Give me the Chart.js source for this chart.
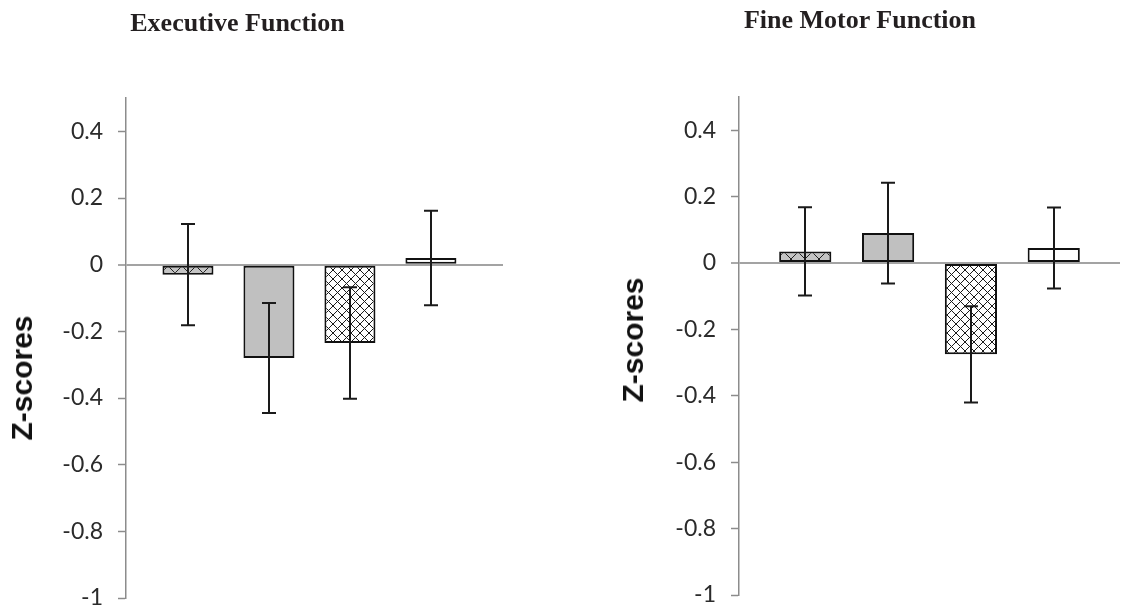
<!DOCTYPE html>
<html>
<head>
<meta charset="utf-8">
<script src="https://cdn.jsdelivr.net/npm/chart.js@4.4.0/dist/chart.umd.min.js"></script>
<style>
  body { margin: 0; background: #fff; width: 1121px; height: 610px; position: relative; overflow: hidden; }
  canvas { position: absolute; top: 0; }
  .title { position: absolute; font-family: "Liberation Serif", serif; font-weight: bold; font-size: 26px; line-height: 26px; color: #231f20; text-align: center; white-space: nowrap; }
  .ytitle { position: absolute; font-family: "Liberation Sans", Arial, sans-serif; font-weight: bold; font-size: 30px; line-height: 30px; color: #111; transform: translate(-50%, -50%) rotate(-90deg); white-space: nowrap; }
</style>
</head>
<body>
<canvas id="efChart" width="560" height="610" style="left:0"></canvas>
<canvas id="fmChart" width="561" height="610" style="left:560px"></canvas>
<div class="title" style="left:0; width:475px; top:10px">Executive Function</div>
<div class="title" style="left:620px; width:480px; top:7px">Fine Motor Function</div>
<div class="ytitle" style="left:22px; top:378px">Z-scores</div>
<div class="ytitle" style="left:633px; top:340px">Z-scores</div>
<script>
// data (z-score means and error bar half-lengths)
const categories = ['Group 1', 'Group 2', 'Group 3', 'Group 4'];
const execMeans = [-0.03, -0.28, -0.235, 0.02];
const execErrors = [0.152, 0.165, 0.167, 0.142];
const motorMeans = [0.035, 0.09, -0.275, 0.045];
const motorErrors = [0.133, 0.152, 0.145, 0.122];
const yTicks = [0.4, 0.2, 0, -0.2, -0.4, -0.6, -0.8, -1];

// hatch fills like the Excel pattern fills
function makeLattice(size, bg, stroke) {
    const c = document.createElement('canvas');
    c.width = size; c.height = size;
    const g = c.getContext('2d');
    g.fillStyle = bg;
    g.fillRect(0, 0, size, size);
    g.strokeStyle = stroke;
    g.lineWidth = 1;
    g.beginPath();
    g.moveTo(0, 0); g.lineTo(size, size);
    g.moveTo(size, 0); g.lineTo(0, size);
    g.stroke();
    return g.createPattern(c, 'repeat');
}

const barFills = [
    makeLattice(14, '#c4c4c4', '#222'),
    '#c0c0c0',
    makeLattice(9, '#ffffff', '#1a1a1a'),
    '#ffffff'
];

const errorBarPlugin = {
    id: 'errorBars',
    afterDatasetsDraw(chart, args, opts) {
        const ctx = chart.ctx;
        const yScale = chart.scales.y;
        const ds = chart.data.datasets[0];
        const meta = chart.getDatasetMeta(0);
        ctx.save();
        ctx.strokeStyle = '#1a1a1a';
        ctx.lineWidth = 2;
        meta.data.forEach((bar, i) => {
            const m = ds.data[i].y;
            const top = yScale.getPixelForValue(m + opts.errors[i]);
            const bot = yScale.getPixelForValue(m - opts.errors[i]);
            const x = Math.round(bar.x);
            ctx.beginPath();
            ctx.moveTo(x, top); ctx.lineTo(x, bot);
            ctx.moveTo(x - 7, top); ctx.lineTo(x + 7, top);
            ctx.moveTo(x - 7, bot); ctx.lineTo(x + 7, bot);
            ctx.stroke();
        });
        ctx.restore();
    }
};

function makeChart(id, means, errors, xMin, xMax, axisWidth, pad) {
    const el = document.getElementById(id);
    return new Chart(el.getContext('2d'), {
        type: 'bar',
        data: {
            datasets: [{
                label: 'Z-scores',
                data: means.map((v, i) => ({ x: i + 1, y: v, group: categories[i] })),
                backgroundColor: barFills,
                borderColor: '#111',
                borderWidth: 2,
                borderSkipped: false,
                categoryPercentage: 1,
                barPercentage: 0.63
            }]
        },
        options: {
            responsive: false,
            animation: false,
            layout: { padding: pad },
            plugins: {
                legend: { display: false },
                tooltip: { enabled: false },
                errorBars: { errors: errors }
            },
            scales: {
                x: {
                    type: 'linear',
                    min: xMin,
                    max: xMax,
                    offset: false,
                    display: false,
                    // one tick per group so the bar ruler uses the group spacing
                    afterBuildTicks: (scale) => { scale.ticks = categories.map((c, i) => ({ value: i + 1 })); }
                },
                y: {
                    min: -1,
                    max: 0.5,
                    afterBuildTicks: (scale) => { scale.ticks = yTicks.map(v => ({ value: v })); },
                    afterFit: (scale) => {
                        scale.width = axisWidth;
                        scale.paddingTop = 0;
                        scale.paddingBottom = 0;
                    },
                    border: { display: true, color: '#8c8c8c', width: 1.5 },
                    grid: {
                        color: (c) => (c.tick && c.tick.value === 0) ? '#a3a3a3' : 'rgba(0,0,0,0)',
                        lineWidth: (c) => (c.tick && c.tick.value === 0) ? 2 : 1,
                        tickColor: '#8c8c8c',
                        tickWidth: 1.5,
                        tickLength: 8
                    },
                    ticks: {
                        padding: 15,
                        color: '#2b2b2b',
                        font: { family: 'Lato', size: 23 },
                        callback: (v) => String(Math.round(v * 10) / 10)
                    }
                }
            }
        },
        plugins: [errorBarPlugin]
    });
}

makeChart('efChart', execMeans, execErrors, 0.235, 4.89, 126, { top: 98, bottom: 12, left: 0, right: 57 });
makeChart('fmChart', motorMeans, motorErrors, 0.2, 4.8, 179, { top: 97, bottom: 15, left: 0, right: 1 });
</script>
</body>
</html>
